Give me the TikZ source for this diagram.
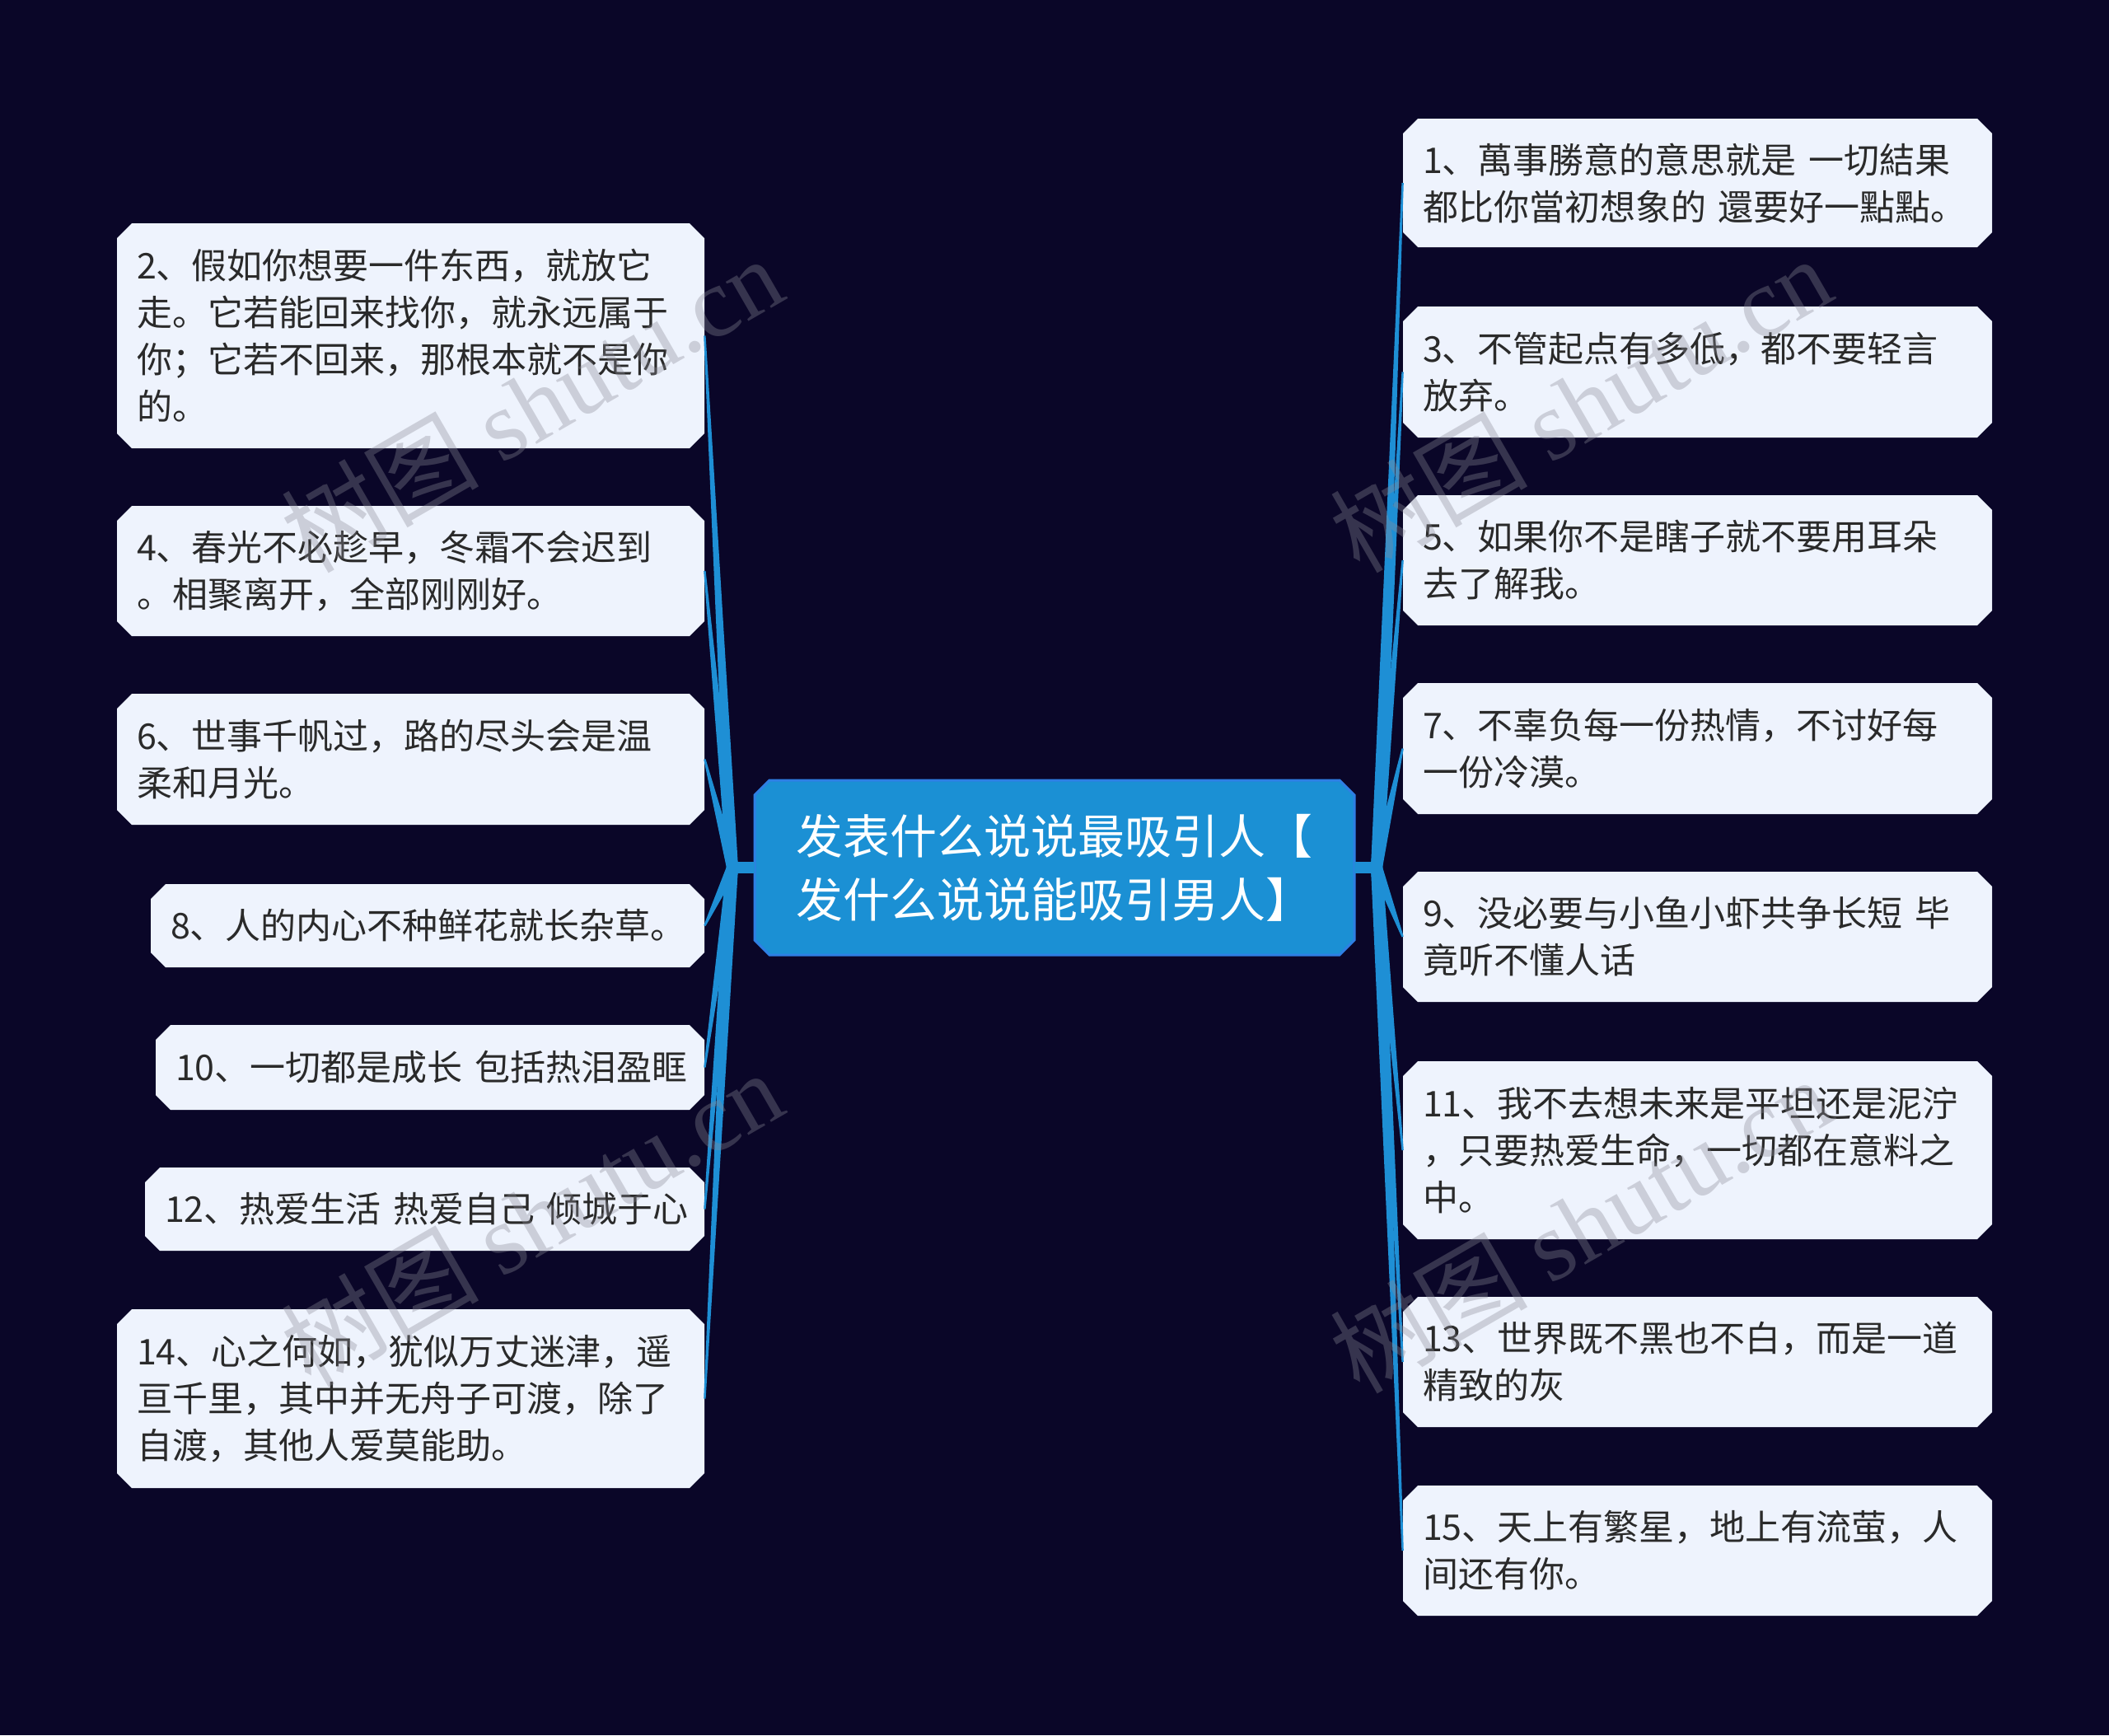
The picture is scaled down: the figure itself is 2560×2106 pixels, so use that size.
\documentclass[tikz,border=0pt]{standalone}
\usepackage{fontspec}
\newfontfamily\cjk{Noto Sans CJK SC}
\newfontfamily\wmserif{Liberation Serif}
\usetikzlibrary{calc}
\definecolor{bgc}{HTML}{0A0628}
\definecolor{branchc}{HTML}{1E8FD5}
\definecolor{leaffill}{HTML}{EEF3FD}
\definecolor{ctrfill}{HTML}{1B90D4}
\definecolor{ctrline}{HTML}{2E7FE4}
\definecolor{txtc}{HTML}{2A2A2A}
\definecolor{wmc}{HTML}{8A8A96}
\tikzset{
  leaftext/.style={inner sep=0pt, align=left, text=txtc, font={\cjk\fontsize{21.5pt}{28.5pt}\selectfont}},
  ctrtext/.style={inner sep=0pt, align=left, text=white, font={\cjk\fontsize{28.5pt}{38.5pt}\selectfont}},
  wmtext/.style={inner sep=0pt, text=wmc, opacity=0.35, rotate=30, font={\fontsize{60pt}{60pt}\selectfont}},
}
% octagon box: x1 y1 x2 y2 (px), chamfer 18
\newcommand\octbox[5]{%
  \path[#5] (#1+18,#2) -- (#3-18,#2) -- (#3,#2+18) -- (#3,#4-18) -- (#3-18,#4)
    -- (#1+18,#4) -- (#1,#4-18) -- (#1,#2+18) -- cycle;}
% leaf: name, x1, y1, x2, y2, text
\newcommand\leaf[6]{%
  \octbox{#2}{#3}{#4}{#5}{fill=leaffill}
  \pgfmathsetmacro\tw{(#4-#2-48)*0.5}
  \pgfmathsetmacro\bw{(#4-#2)*0.5}
  \pgfmathsetmacro\bh{(#5-#3)*0.5}
  \node[leaftext, text width=\tw pt, minimum width=\bw pt, minimum height=\bh pt]
    (#1) at ({(#2+#4)/2},{(#3+#5)/2}) {#6};}
% tapered branch: root, leaf point
\newcommand\branch[2]{%
  \fill[branchc] ($(#1)!3.5pt!90:(#2)$) -- ($(#2)!0.6pt!-90:(#1)$)
    -- ($(#2)!0.6pt!90:(#1)$) -- ($(#1)!3.5pt!-90:(#2)$) -- cycle;}
\begin{document}
\begin{tikzpicture}[x=0.5pt, y=-0.5pt]
\fill[bgc] (0,0) rectangle (2560,2106);
\useasboundingbox (0,0) rectangle (2560,2106);

% centre
\octbox{916}{947}{1644}{1159}{fill=ctrfill, draw=ctrline, line width=1.5pt}
\node[ctrtext] (ctr) at (1280,1053) {发表什么说说最吸引人【\\发什么说说能吸引男人】};
\coordinate (cl) at (916,1053);
\coordinate (cr) at (1644,1053);
\coordinate (rl) at (889,1053);
\coordinate (rr) at (1671,1053);

% right leaves
\leaf{n1}{1703}{144}{2418}{300}{1、萬事勝意的意思就是~一切結果\\都比你當初想象的~還要好一點點。}
\leaf{n3}{1703}{372}{2418}{531}{3、不管起点有多低，都不要轻言\\放弃。}
\leaf{n5}{1703}{601}{2418}{759}{5、如果你不是瞎子就不要用耳朵\\去了解我。}
\leaf{n7}{1703}{829}{2418}{988}{7、不辜负每一份热情，不讨好每\\一份冷漠。}
\leaf{n9}{1703}{1058}{2418}{1216}{9、没必要与小鱼小虾共争长短~毕\\竟听不懂人话}
\leaf{n11}{1703}{1288}{2418}{1504}{11、我不去想未来是平坦还是泥泞\\，只要热爱生命，一切都在意料之\\中。}
\leaf{n13}{1703}{1574}{2418}{1732}{13、世界既不黑也不白，而是一道\\精致的灰}
\leaf{n15}{1703}{1803}{2418}{1961}{15、天上有繁星，地上有流萤，人\\间还有你。}

% left leaves
\leaf{n2}{142}{271}{855}{544}{2、假如你想要一件东西，就放它\\走。它若能回来找你，就永远属于\\你；它若不回来，那根本就不是你\\的。}
\leaf{n4}{142}{614}{855}{772}{4、春光不必趁早，冬霜不会迟到\\。相聚离开，全部刚刚好。}
\leaf{n6}{142}{842}{855}{1001}{6、世事千帆过，路的尽头会是温\\柔和月光。}
\leaf{n8}{183}{1073}{855}{1174}{8、人的内心不种鲜花就长杂草。}
\leaf{n10}{189}{1244}{855}{1347}{10、一切都是成长~包括热泪盈眶}
\leaf{n12}{176}{1417}{855}{1518}{12、热爱生活~热爱自己~倾城于心}
\leaf{n14}{142}{1589}{855}{1806}{14、心之何如，犹似万丈迷津，遥\\亘千里，其中并无舟子可渡，除了\\自渡，其他人爱莫能助。}

% connectors
\draw[branchc, line width=7pt] (cl) -- (rl);
\draw[branchc, line width=7pt] (cr) -- (rr);
\foreach \n in {n2,n4,n6,n8,n10,n12,n14} {\branch{rl}{\n.east}}
\foreach \n in {n1,n3,n5,n7,n9,n11,n13,n15} {\branch{rr}{\n.west}}

% watermarks
\node[wmtext] (wm1) at (645,490) {\cjk 树图 \wmserif shutu.cn};
\node[wmtext] (wm2) at (1918,490) {\cjk 树图 \wmserif shutu.cn};
\node[wmtext] (wm3) at (645,1478) {\cjk 树图 \wmserif shutu.cn};
\node[wmtext] (wm4) at (1918,1486) {\cjk 树图 \wmserif shutu.cn};
\end{tikzpicture}
\end{document}
